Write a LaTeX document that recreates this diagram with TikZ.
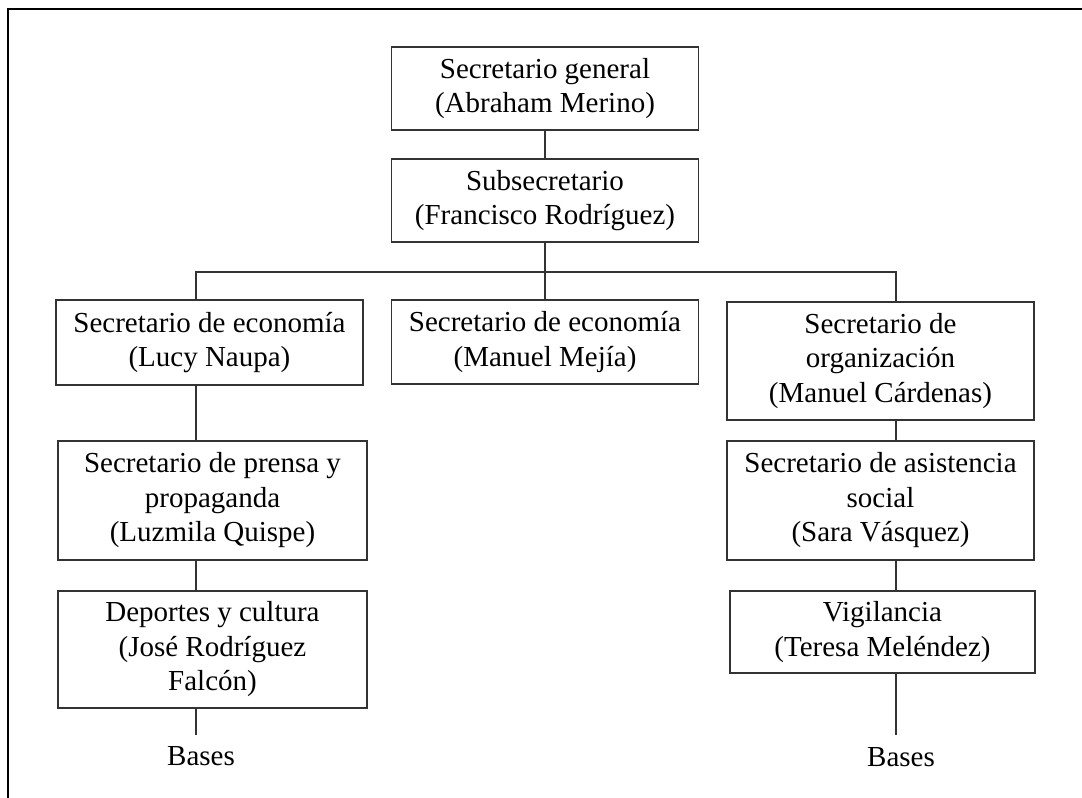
\documentclass[tikz,border=0pt]{standalone}
\usepackage{fontspec}
\setmainfont{Liberation Serif}
\usetikzlibrary{positioning,calc}

\tikzset{
    caja/.style={draw=black!80, line width=1.3pt, align=center, inner sep=0pt,
        minimum width=307pt, font=\fontsize{29}{34.5}\selectfont},
    linea/.style={draw=black!80, line width=1.3pt},
    etiqueta/.style={font=\fontsize{29}{34.5}\selectfont},
}

\begin{document}
\begin{tikzpicture}[x=1pt, y=-1pt]

\useasboundingbox (0,0) rectangle (1082,798);

% ========== marco ==========
\draw[line width=2pt] (7.5,798) -- (7.5,9) -- (1082,9);

% ========== cajas ==========
\node[caja, minimum height=83pt] (general) at (545,88.5) {Secretario general\\(Abraham Merino)};
\node[caja, minimum height=83pt] (sub) at (545,200.5) {Subsecretario\\(Francisco Rodríguez)};

\node[caja, minimum height=85pt] (eco1) at (209.5,342.5) {Secretario de economía\\(Lucy Naupa)};
\node[caja, minimum height=84pt] (eco2) at (545,342) {Secretario de economía\\(Manuel Mejía)};
\node[caja, minimum height=118pt] (org) at (880.5,361) {Secretario de\\organización\\(Manuel Cárdenas)};

\node[caja, minimum height=119pt, minimum width=309pt] (prensa) at (212.5,500.5) {Secretario de prensa y\\propaganda\\(Luzmila Quispe)};
\node[caja, minimum height=117pt, minimum width=309pt] (deportes) at (212.5,649.5) {Deportes y cultura\\(José Rodríguez\\Falcón)};

\node[caja, minimum height=119pt] (asist) at (880.5,500.5) {Secretario de asistencia\\social\\(Sara Vásquez)};
\node[caja, minimum height=82pt, minimum width=305pt] (vigil) at (882.5,632) {Vigilancia\\(Teresa Meléndez)};

\node[etiqueta] (bases1) at (201,756) {Bases};
\node[etiqueta] (bases2) at (901,757) {Bases};

% ramas
\coordinate (ramaizq) at (196,272);
\coordinate (ramader) at (896,272);
\coordinate (finizq) at (196,735);
\coordinate (finder) at (896,735);

% ========== conectores ==========
\draw[linea] (general) -- (sub);
\draw[linea] (sub) -- (eco2);
\draw[linea] (ramaizq |- eco1.north) -- (ramaizq) -- (ramader) -- (ramader |- org.north);

\draw[linea] (ramaizq |- eco1.south) -- (ramaizq |- prensa.north);
\draw[linea] (ramaizq |- prensa.south) -- (ramaizq |- deportes.north);
\draw[linea] (ramaizq |- deportes.south) -- (finizq);

\draw[linea] (ramader |- org.south) -- (ramader |- asist.north);
\draw[linea] (ramader |- asist.south) -- (ramader |- vigil.north);
\draw[linea] (ramader |- vigil.south) -- (finder);

\end{tikzpicture}
\end{document}
